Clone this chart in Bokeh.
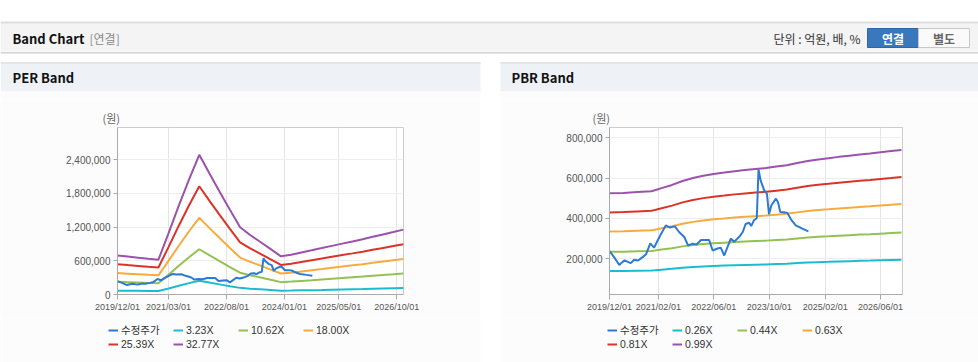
import pandas as pd
from bokeh.plotting import figure
from bokeh.models import (Range1d, FixedTicker, DatetimeTickFormatter, NumeralTickFormatter,
                          Legend, LegendItem, Label, Spacer)
from bokeh.layouts import column, row
from bokeh.embed import file_html
from bokeh.resources import INLINE

# ---------------- data ----------------
price_dates = ["2019-12-01", "2020-01-10", "2020-02-25", "2020-03-22", "2020-04-12", "2020-05-10",
               "2020-06-04", "2020-07-04", "2020-08-07", "2020-09-16", "2020-10-16", "2020-11-22",
               "2020-12-25", "2021-02-10", "2021-04-07", "2021-05-13", "2021-06-25", "2021-08-01",
               "2021-09-16", "2021-10-19", "2021-11-28", "2022-01-01", "2022-02-10", "2022-04-22",
               "2022-05-22", "2022-07-04", "2022-08-01", "2022-09-01", "2022-10-28", "2022-11-28",
               "2023-01-10", "2023-02-10", "2023-03-07", "2023-04-07", "2023-04-25", "2023-05-19",
               "2023-06-13", "2023-06-28", "2023-07-16", "2023-08-16", "2023-09-10", "2023-09-28",
               "2023-10-19", "2023-11-28", "2023-12-16", "2024-01-04", "2024-02-07", "2024-03-07",
               "2024-04-07", "2024-05-19", "2024-07-16", "2024-09-07"]
price_values = [237000, 207000, 168000, 182000, 191000, 183000,
                177000, 194000, 190000, 207000, 221000, 275000,
                254000, 307000, 365000, 354000, 360000, 332000,
                307000, 265000, 274000, 270000, 292000, 292000,
                240000, 250000, 254000, 215000, 299000, 284000,
                308000, 332000, 372000, 378000, 362000, 390000,
                402000, 643000, 590000, 540000, 522000, 420000,
                465000, 498000, 480000, 432000, 430000, 427000,
                395000, 365000, 349000, 335000]

eps_dates = ["2019-12-01", "2020-03-01", "2020-06-01", "2020-09-01", "2020-12-01", "2021-03-01",
             "2021-06-01", "2021-09-01", "2021-12-01", "2022-03-01", "2022-06-01", "2022-09-01",
             "2022-12-01", "2023-03-01", "2023-06-01", "2023-09-01", "2023-12-01", "2024-03-01",
             "2024-06-01", "2024-09-01", "2024-12-01", "2025-03-01", "2025-06-01", "2025-09-01",
             "2025-12-01", "2026-03-01", "2026-06-01", "2026-09-01", "2026-12-01"]
eps_values = [21200, 20600, 20000, 19400, 18900, 33200,
              48200, 62500, 75800, 65800, 55800, 46000,
              36500, 32300, 28500, 24600, 20700, 21600,
              22800, 24000, 25200, 26400, 27600, 28800,
              30000, 31300, 32600, 33900, 35200]
per_multiples = [3.23, 10.62, 18.00, 25.39, 32.77]
per_labels = ["3.23X", "10.62X", "18.00X", "25.39X", "32.77X"]

bps_dates = ["2019-12-01", "2020-04-01", "2020-08-01", "2020-12-01", "2021-01-01", "2021-03-01",
             "2021-06-01", "2021-09-01", "2021-12-01", "2022-03-01", "2022-06-01", "2022-09-01",
             "2022-12-01", "2023-03-01", "2023-06-01", "2023-09-01", "2023-12-01", "2024-03-01",
             "2024-06-01", "2024-09-01", "2024-12-01", "2025-03-01", "2025-06-01", "2025-09-01",
             "2025-12-01", "2026-03-01", "2026-06-01", "2026-09-01", "2026-12-01"]
bps_values = [530000, 532000, 536000, 540000, 545000, 556000,
              572000, 592000, 607000, 618000, 627000, 634000,
              641000, 647000, 652000, 657000, 664000, 671000,
              682000, 692000, 700000, 706000, 713000, 719000,
              725000, 730000, 736000, 742000, 748000]
pbr_multiples = [0.26, 0.44, 0.63, 0.81, 0.99]
pbr_labels = ["0.26X", "0.44X", "0.63X", "0.81X", "0.99X"]

price_label = "수정주가"
per_xticks = ["2019-12-01", "2021-03-01", "2022-08-01", "2024-01-01", "2025-05-01", "2026-10-01"]
pbr_xticks = ["2019-12-01", "2021-02-01", "2022-06-01", "2023-10-01", "2025-02-01", "2026-06-01"]
per_yticks = [0, 600000, 1200000, 1800000, 2400000]
pbr_yticks = [200000, 400000, 600000, 800000]

# ---------------- styles ----------------
price_color = "#2b7bd4"
band_colors = ["#1bbccf", "#93c152", "#f9aa3c", "#db3328", "#9b52ab"]
TICK_FONT = "'Liberation Sans', 'Noto Sans CJK KR'"
KR_FONT = "'Noto Sans CJK KR'"
PANEL_BG = "#fcfcfc"
CHART_H = 218
LEGEND_H = 44
PAGE_W = 978


def ms(d):
    return pd.Timestamp(d).timestamp() * 1000.0


def make_chart(width, border_left, border_right, x_end, y_start, y_end, yticks, xticks,
               base_dates, base_values, mults, title_offset):
    p = figure(width=width, height=CHART_H, x_axis_type="datetime",
               output_backend="svg", toolbar_location=None, title="(원)",
               x_range=Range1d(ms("2019-12-01"), ms(x_end)),
               y_range=Range1d(y_start, y_end),
               min_border_left=border_left, min_border_right=border_right,
               min_border_top=27, min_border_bottom=24)
    p.background_fill_color = "#ffffff"
    p.border_fill_color = PANEL_BG
    p.outline_line_color = "#cccccc"

    p.title.align = "left"
    p.title.offset = title_offset
    p.title.standoff = 3
    p.title.text_font = KR_FONT
    p.title.text_font_size = "11px"
    p.title.text_font_style = "normal"
    p.title.text_color = "#666666"

    p.xaxis.ticker = FixedTicker(ticks=[ms(d) for d in xticks])
    fmt = "%Y/%m/%d"
    p.xaxis.formatter = DatetimeTickFormatter(
        microseconds=fmt, milliseconds=fmt, seconds=fmt, minsec=fmt, minutes=fmt,
        hourmin=fmt, hours=fmt, days=fmt, months=fmt, years=fmt)
    p.yaxis.ticker = FixedTicker(ticks=yticks)
    p.yaxis.formatter = NumeralTickFormatter(format="0,0")

    for ax in (p.xaxis[0], p.yaxis[0]):
        ax.axis_line_color = "#aaaaaa"
        ax.major_tick_line_color = "#aaaaaa"
        ax.minor_tick_line_color = None
        ax.major_tick_in = 0
        ax.major_label_text_color = "#555555"
        ax.major_label_text_font = TICK_FONT
    p.xaxis.major_tick_out = 5
    p.xaxis.major_label_text_font_size = "9px"
    p.xaxis.major_label_standoff = 2
    p.yaxis.major_tick_out = 4
    p.yaxis.major_label_text_font_size = "10px"
    p.yaxis.major_label_standoff = 3

    p.xgrid.grid_line_color = "#e4e4e4"
    p.ygrid.grid_line_color = "#eeeeee"

    bx = pd.to_datetime(base_dates)
    for m, c in zip(mults, band_colors):
        p.line(bx, [v * m for v in base_values], line_color=c, line_width=2)
    p.line(pd.to_datetime(price_dates), price_values, line_color=price_color, line_width=2)
    return p


per = make_chart(480, 117, 77, "2026-12-01", 0, 2970000, per_yticks, per_xticks,
                 eps_dates, eps_values, per_multiples, -15)
pbr = make_chart(478, 109, 76, "2026-12-10", 21000, 852000, pbr_yticks, pbr_xticks,
                 bps_dates, bps_values, pbr_multiples, -17)

# ---------------- legends (one strip under both panels) ----------------
lg = figure(width=PAGE_W, height=LEGEND_H, output_backend="svg", toolbar_location=None,
            x_range=Range1d(0, PAGE_W), y_range=Range1d(0, LEGEND_H),
            x_axis_location=None, y_axis_location=None,
            min_border=0, min_border_left=0, min_border_right=0,
            min_border_top=0, min_border_bottom=0)
lg.grid.visible = False
lg.outline_line_color = None
lg.background_fill_color = "#ffffff"
lg.border_fill_color = "#ffffff"
for l, r in ((0, 480), (500, PAGE_W)):
    lg.quad(left=l, right=r, top=LEGEND_H, bottom=0, fill_color=PANEL_BG, line_color=None)


def add_legend(labels, legend_x):
    items = []
    # off-range stand-in lines, so the legend glyphs carry the series styles
    r = lg.line([-20, -10], [-20, -20], line_color=price_color, line_width=2)
    items.append(LegendItem(label=price_label, renderers=[r]))
    for lab, c in zip(labels, band_colors):
        r = lg.line([-20, -10], [-20, -20], line_color=c, line_width=2)
        items.append(LegendItem(label=lab, renderers=[r]))
    legend = Legend(items=items, orientation="horizontal", ncols=4,
                    location=(legend_x, 12), padding=0, margin=0,
                    border_line_alpha=0, background_fill_alpha=0,
                    glyph_width=10, glyph_height=12, label_height=12,
                    label_width=51, label_standoff=3, spacing=1,
                    label_text_font=TICK_FONT, label_text_font_size="10.5px",
                    label_text_color="#333333")
    lg.add_layout(legend, "center")


add_legend(per_labels, 108)
add_legend(pbr_labels, 607)

# ---------------- header ----------------
h = figure(width=PAGE_W, height=100, output_backend="svg", toolbar_location=None,
           x_range=Range1d(0, PAGE_W), y_range=Range1d(100, 0),
           x_axis_location=None, y_axis_location=None,
           min_border=0, min_border_left=0, min_border_right=0,
           min_border_top=0, min_border_bottom=0)
h.grid.visible = False
h.outline_line_color = None
h.background_fill_color = "#ffffff"
h.border_fill_color = "#ffffff"

# header bar
h.quad(left=0, right=PAGE_W, top=51, bottom=22, fill_color="#f4f4f4", line_color=None)
h.segment(x0=0, x1=PAGE_W, y0=22, y1=22, line_color="#dedede", line_width=2)
h.segment(x0=0, x1=PAGE_W, y0=52, y1=52, line_color="#d4d4d4", line_width=1)
h.segment(x0=0, x1=PAGE_W, y0=53, y1=53, line_color="#e8e8e8", line_width=1)
# panel title bars
for l, r in ((0, 480), (500, PAGE_W)):
    h.quad(left=l, right=r, top=62, bottom=91, fill_color="#eef2f7", line_color=None)
    h.segment(x0=l, x1=r, y0=62.5, y1=62.5, line_color="#e2e6eb", line_width=2)
    h.quad(left=l, right=r, top=91, bottom=100, fill_color=PANEL_BG, line_color=None)
# buttons
h.quad(left=867, right=918, top=28, bottom=47, fill_color="#3a78be", line_color="#2f66a8")
h.quad(left=918, right=969, top=28, bottom=47, fill_color="#fafafa", line_color="#c8c8c8")

h.add_layout(Label(x=12, y=38, text="Band Chart", text_font=KR_FONT, text_font_size="13px",
                   text_font_style="bold", text_color="#111111", text_baseline="middle"))
h.add_layout(Label(x=89, y=38, text="[연결]", text_font=KR_FONT, text_font_size="12px",
                   text_color="#8a8a8a", text_baseline="middle"))
h.add_layout(Label(x=860, y=38, text="단위 : 억원, 배, %", text_font=KR_FONT, text_font_size="12px",
                   text_color="#333333", text_baseline="middle", text_align="right"))
h.add_layout(Label(x=892.5, y=38, text="연결", text_font=KR_FONT, text_font_size="12px",
                   text_font_style="bold", text_color="#ffffff", text_baseline="middle",
                   text_align="center"))
h.add_layout(Label(x=943.5, y=38, text="별도", text_font=KR_FONT, text_font_size="12px",
                   text_font_style="bold", text_color="#666666", text_baseline="middle",
                   text_align="center"))
h.add_layout(Label(x=12, y=77, text="PER Band", text_font=KR_FONT, text_font_size="13px",
                   text_font_style="bold", text_color="#111111", text_baseline="middle"))
h.add_layout(Label(x=511, y=77, text="PBR Band", text_font=KR_FONT, text_font_size="13px",
                   text_font_style="bold", text_color="#111111", text_baseline="middle"))

layout = column(h, row(per, Spacer(width=20, height=CHART_H), pbr), lg)

open("out.html", "w").write(file_html(layout, INLINE))
